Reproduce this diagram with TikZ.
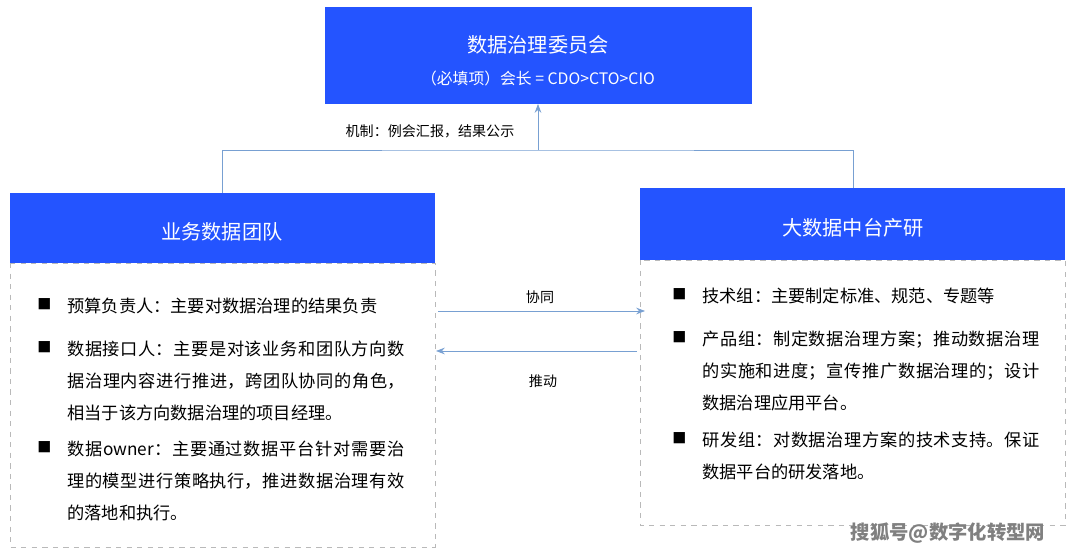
\documentclass[tikz,border=0pt]{standalone}
\usepackage{fontspec}
\setmainfont{Noto Sans CJK SC}
\XeTeXlinebreaklocale "zh"
\XeTeXlinebreakskip=0pt plus 1pt
\usetikzlibrary{positioning,arrows.meta}
\definecolor{hdblue}{RGB}{36,84,255}
\definecolor{lnblue}{RGB}{120,160,210}
\tikzset{
  head/.style={fill=hdblue,text=white,font=\fontsize{11}{14}\selectfont},
  body/.style={draw=gray!55,dashed},
  item/.style={anchor=north west,text width=6.75cm,align=justify,inner sep=0pt,font=\fontsize{9.8}{18.2}\selectfont},
  bul/.style={anchor=north west,inner sep=0pt,font=\fontsize{8}{18.2}\selectfont},
  lbl/.style={font=\fontsize{8}{10}\selectfont},
  link/.style={draw=lnblue,-{Stealth[length=5pt]}}
}
\begin{document}
\begin{tikzpicture}[x=0.02cm,y=-0.02cm]
	\useasboundingbox (0,0) rectangle (1080,557);
	% boxes
	\fill[hdblue] (325,7) rectangle (752,104);
	\node[text=white,font=\fontsize{11.5}{14}\selectfont] (top) at (538,45) {数据治理委员会};
	\node[text=white,font=\fontsize{9}{12}\selectfont] (topsub) at (538,78) {（必填项）会长 = CDO>CTO>CIO};
	\fill[hdblue] (10,193) rectangle (435,263);
	\node[text=white,font=\fontsize{11.5}{14}\selectfont] (biz) at (222,232) {业务数据团队};
	\draw[body] (10,263) rectangle (435,547);
	\fill[hdblue] (640,188) rectangle (1065,260);
	\node[text=white,font=\fontsize{11.5}{14}\selectfont] (tech) at (853,228) {大数据中台产研};
	\draw[body] (640,260) rectangle (1065,525);
	% connectors
	\coordinate (tb) at (538,104);
	\coordinate (lt) at (222,193);
	\coordinate (rt) at (853,188);
	\draw[draw=lnblue] (lt) |- (538,150) -| (rt);
	\draw[link] (538,150) -- (tb);
	\node[lbl] (mech) at (430,131) {机制：例会汇报，结果公示};
	\coordinate (a1) at (438,311); \coordinate (b1) at (645,311);
	\coordinate (a2) at (436,351); \coordinate (b2) at (637,351);
	\draw[link] (a1) -- (b1);
	\draw[link] (b2) -- (a2);
	\node[lbl] (xt) at (540,297) {协同};
	\node[lbl] (td) at (543,381) {推动};
	% left items
	\node[bul] at (37,298) {■};
	\node[item] (l1) at (67,298) {预算负责人：主要对数据治理的结果负责};
	\node[bul] at (37,341) {■};
	\node[item] (l2) at (67,341) {数据接口人：主要是对该业务和团队方向数据治理内容进行推进，跨团队协同的角色，相当于该方向数据治理的项目经理。};
	\node[bul] at (37,441) {■};
	\node[item] (l3) at (67,441) {数据owner：主要通过数据平台针对需要治理的模型进行策略执行，推进数据治理有效的落地和执行。};
	% right items
	\node[bul] at (672,288) {■};
	\node[item] (r1) at (702,288) {技术组：主要制定标准、规范、专题等};
	\node[bul] at (672,331) {■};
	\node[item] (r2) at (702,331) {产品组：制定数据治理方案；推动数据治理的实施和进度；宣传推广数据治理的；设计数据治理应用平台。};
	\node[bul] at (672,432) {■};
	\node[item] (r3) at (702,432) {研发组：对数据治理方案的技术支持。保证数据平台的研发落地。};
	\node[font=\bfseries\fontsize{11}{14}\selectfont,text=gray] (wm) at (948,533) {搜狐号@数字化转型网};
\end{tikzpicture}
\end{document}
